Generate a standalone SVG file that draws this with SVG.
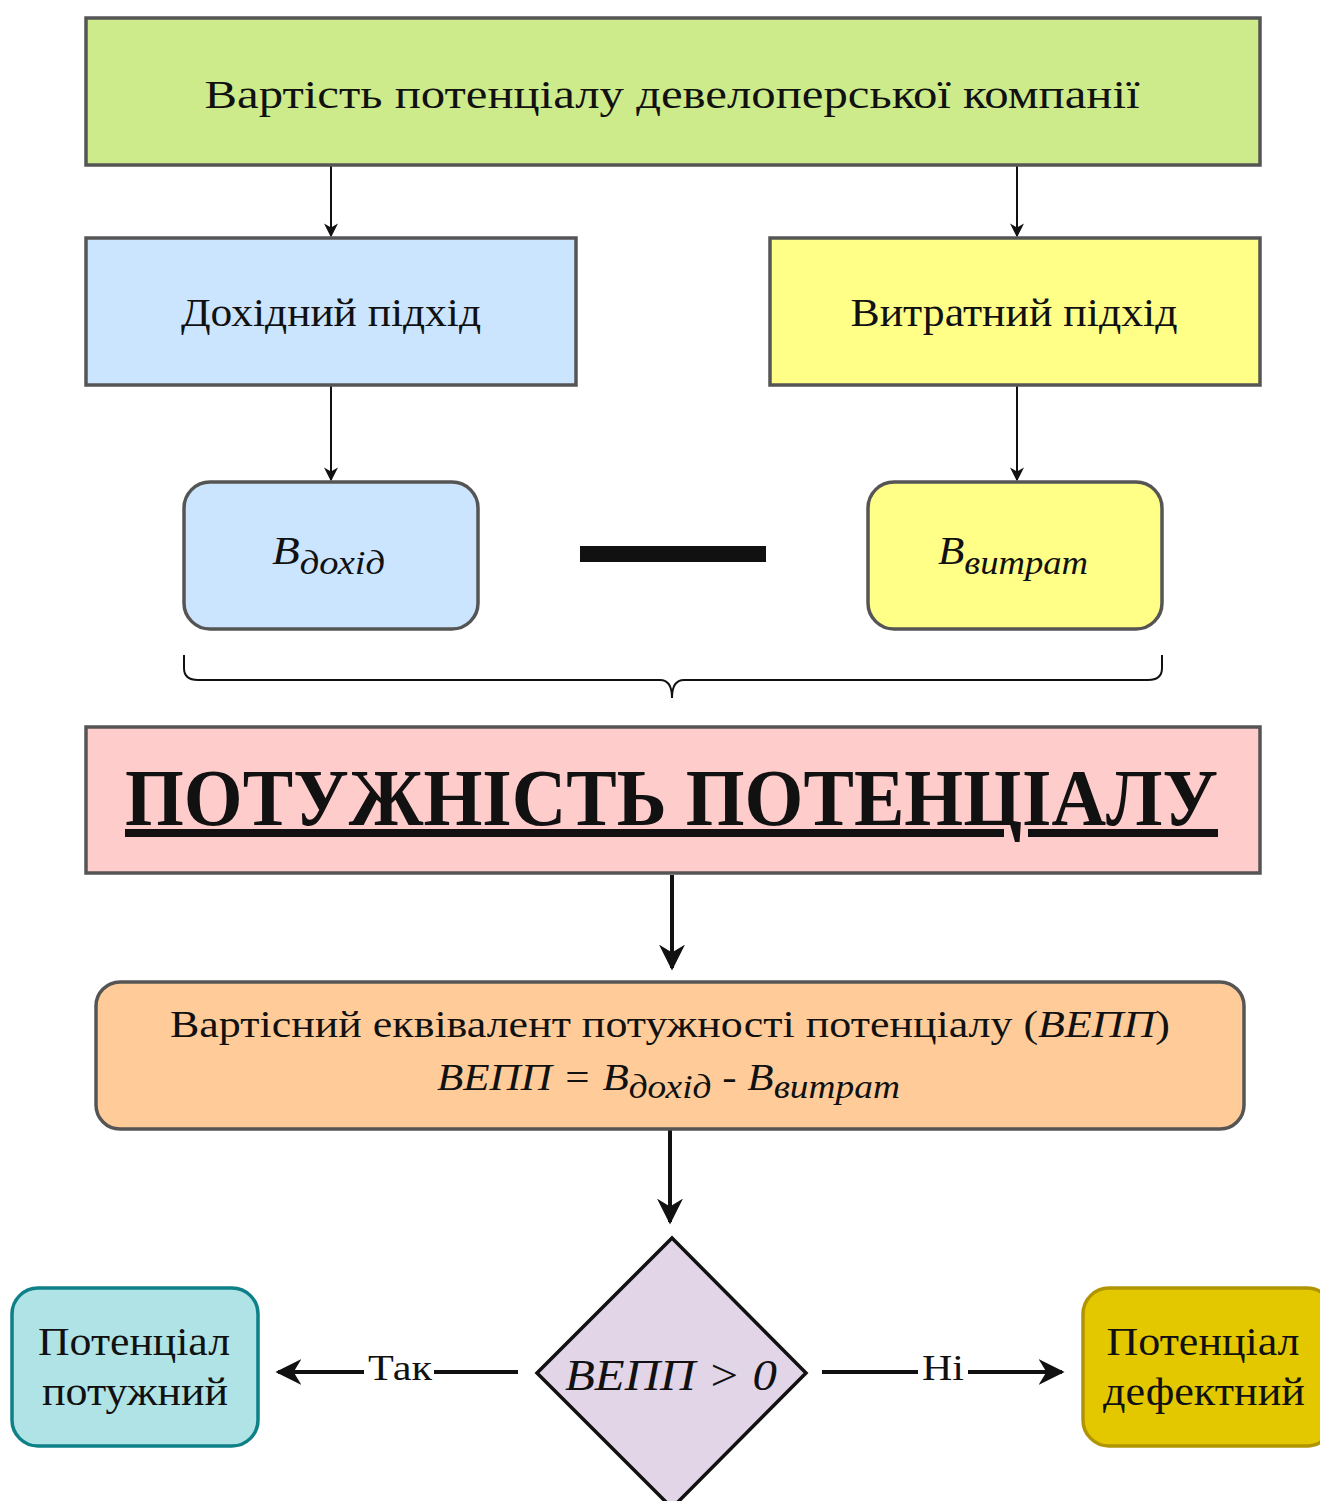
<svg xmlns="http://www.w3.org/2000/svg" width="1320" height="1501" viewBox="0 0 1320 1501">
<style>
.t{font-family:"Liberation Serif","Times New Roman",serif;fill:#111}
.box{stroke:#555;stroke-width:3.5}
.thin{stroke:#111;stroke-width:2;fill:none}
.thick{stroke:#111;stroke-width:4;fill:none}
</style>
<defs>
<marker id="ah" viewBox="0 0 10 10" refX="9" refY="5" markerWidth="14" markerHeight="16" markerUnits="userSpaceOnUse" orient="auto"><path d="M0,0 L10,5 L0,10 L3,5 z" fill="#111"/></marker>
<marker id="ahb" viewBox="0 0 10 10" refX="9" refY="5" markerWidth="26" markerHeight="30" markerUnits="userSpaceOnUse" orient="auto"><path d="M0,0 L10,5 L0,10 L3,5 z" fill="#111"/></marker>
</defs>
<rect width="1320" height="1501" fill="#fff"/>
<g id="connectors">
<line class="thin" x1="331" y1="166" x2="331" y2="236" marker-end="url(#ah)"/>
<line class="thin" x1="1017" y1="166" x2="1017" y2="236" marker-end="url(#ah)"/>
<line class="thin" x1="331" y1="386" x2="331" y2="480" marker-end="url(#ah)"/>
<line class="thin" x1="1017" y1="386" x2="1017" y2="480" marker-end="url(#ah)"/>
<line class="thick" x1="672" y1="875" x2="672" y2="968" marker-end="url(#ahb)"/>
<line class="thick" x1="670" y1="1130" x2="670" y2="1222" marker-end="url(#ahb)"/>
<line class="thick" x1="518" y1="1372" x2="278" y2="1372" marker-end="url(#ahb)"/>
<line class="thick" x1="822" y1="1372" x2="1062" y2="1372" marker-end="url(#ahb)"/>
<rect x="364" y="1352" width="70" height="38" fill="#fff"/>
<text class="t" x="400" y="1380" font-size="36" text-anchor="middle" textLength="64" lengthAdjust="spacingAndGlyphs">Так</text>
<rect x="918" y="1352" width="50" height="38" fill="#fff"/>
<text class="t" x="943" y="1380" font-size="36" text-anchor="middle" textLength="42" lengthAdjust="spacingAndGlyphs">Ні</text>
</g>
<g id="top">
<rect class="box" x="86" y="18" width="1174" height="147" fill="#cdeb8b"/>
<text class="t" x="672" y="108" font-size="40" text-anchor="middle" textLength="935" lengthAdjust="spacingAndGlyphs">Вартість потенціалу девелоперської компанії</text>
</g>
<g id="dohidny">
<rect class="box" x="86" y="238" width="490" height="147" fill="#cce5ff"/>
<text class="t" x="331" y="326" font-size="40" text-anchor="middle" textLength="300" lengthAdjust="spacingAndGlyphs">Дохідний підхід</text>
</g>
<g id="vytratny">
<rect class="box" x="770" y="238" width="490" height="147" fill="#ffff88"/>
<text class="t" x="1014" y="326" font-size="40" text-anchor="middle" textLength="327" lengthAdjust="spacingAndGlyphs">Витратний підхід</text>
</g>
<g id="b-dohid">
<rect class="box" x="184" y="482" width="294" height="147" rx="26" fill="#cce5ff"/>
<text class="t" font-style="italic" font-size="40" x="272" y="564" textLength="113" lengthAdjust="spacingAndGlyphs">B<tspan font-size="34" dy="10">дохід</tspan></text>
</g>
<g id="minus">
<rect x="580" y="546" width="186" height="16" fill="#111"/>
</g>
<g id="b-vytrat">
<rect class="box" x="868" y="482" width="294" height="147" rx="26" fill="#ffff88"/>
<text class="t" font-style="italic" font-size="40" x="938" y="564" textLength="150" lengthAdjust="spacingAndGlyphs">B<tspan font-size="34" dy="10">витрат</tspan></text>
</g>
<g id="brace">
<path class="thin" stroke-width="3" d="M184,655 L184,668 Q184,680 198,680 L660,680 Q672,680 672,698 Q672,680 684,680 L1148,680 Q1162,680 1162,668 L1162,655"/>
</g>
<g id="potuzhnist">
<rect class="box" x="86" y="727" width="1174" height="146" fill="#ffcccc"/>
<text class="t" x="125" y="825" font-size="80" font-weight="bold" text-decoration="underline" textLength="1093" lengthAdjust="spacingAndGlyphs">ПОТУЖНІСТЬ ПОТЕНЦІАЛУ</text>
</g>
<g id="vepp">
<rect class="box" x="96" y="982" width="1148" height="147" rx="24" fill="#ffcc99"/>
<text class="t" x="670" y="1037" font-size="37" text-anchor="middle" textLength="1000" lengthAdjust="spacingAndGlyphs">Вартісний еквівалент потужності потенціалу (<tspan font-style="italic">ВЕПП</tspan>)</text>
<text class="t" font-style="italic" font-size="38" x="437" y="1090" textLength="463" lengthAdjust="spacingAndGlyphs">ВЕПП = B<tspan font-size="33" dy="8">дохід</tspan><tspan dy="-8"> - B</tspan><tspan font-size="33" dy="8">витрат</tspan></text>
</g>
<g id="decision">
<path d="M672,1238 L806,1373 L672,1508 L537,1373 Z" fill="#e1d5e7" stroke="#111" stroke-width="3.5"/>
<text class="t" font-style="italic" x="671" y="1390" font-size="44" text-anchor="middle" textLength="212" lengthAdjust="spacingAndGlyphs">ВЕПП &gt; 0</text>
</g>
<g id="potuzhny">
<rect x="12" y="1288" width="246" height="158" rx="26" fill="#b0e3e6" stroke="#0e8088" stroke-width="3.5"/>
<text class="t" x="134" y="1355" font-size="40" text-anchor="middle" textLength="192" lengthAdjust="spacingAndGlyphs">Потенціал</text>
<text class="t" x="135" y="1405" font-size="40" text-anchor="middle" textLength="186" lengthAdjust="spacingAndGlyphs">потужний</text>
</g>
<g id="defektny">
<rect x="1083" y="1288" width="250" height="158" rx="26" fill="#e3c800" stroke="#b09500" stroke-width="3.5"/>
<text class="t" x="1203" y="1355" font-size="40" text-anchor="middle" textLength="193" lengthAdjust="spacingAndGlyphs">Потенціал</text>
<text class="t" x="1204" y="1405" font-size="40" text-anchor="middle" textLength="202" lengthAdjust="spacingAndGlyphs">дефектний</text>
</g>
</svg>
